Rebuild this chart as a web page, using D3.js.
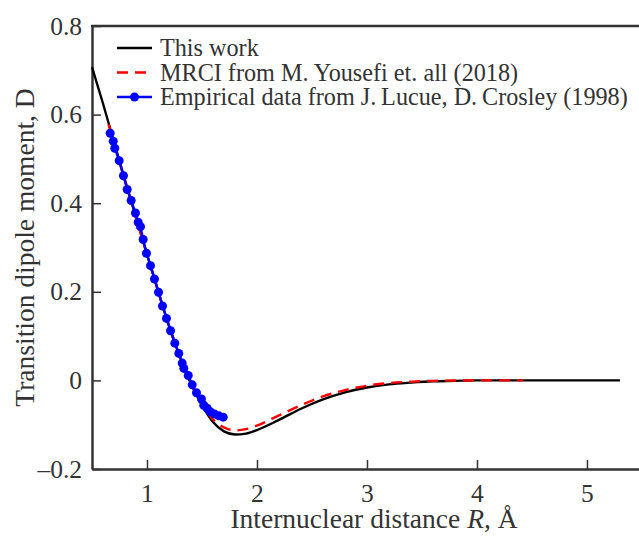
<!DOCTYPE html>
<html lang="en">
<head>
    <meta charset="UTF-8">
    <title>Transition dipole moment vs internuclear distance</title>
    <script src="https://d3js.org/d3.v7.min.js"></script>
    <style>
        body { margin: 0; background: #fff; }
        svg text { font-family: "Liberation Serif", "DejaVu Serif", serif; fill: #333; }
        .axis path, .axis line { stroke: #333; }
    </style>
</head>
<body>
<svg width="639" height="536"></svg>
<script>
    // This work (black solid)
    const workR = [0.5, 0.6, 0.7, 0.8, 0.9, 1.0, 1.1, 1.2, 1.3, 1.4, 1.5, 1.6, 1.7, 1.8, 1.9, 2.0, 2.2, 2.4, 2.6, 2.8, 3.0, 3.2, 3.4, 3.6, 3.8, 4.0, 4.5, 5.0, 5.3];
    const workD = [0.707, 0.625, 0.538, 0.452, 0.368, 0.285, 0.203, 0.124, 0.053, -0.008, -0.056, -0.094, -0.115, -0.122, -0.120, -0.112, -0.089, -0.064, -0.043, -0.027, -0.016, -0.009, -0.005, -0.002, -0.001, 0, 0, 0, 0];

    // MRCI (red dashed)
    const mrciR = [0.65, 0.7, 0.8, 0.9, 1.0, 1.1, 1.2, 1.3, 1.4, 1.5, 1.6, 1.7, 1.8, 1.9, 2.0, 2.2, 2.4, 2.6, 2.8, 3.0, 3.2, 3.4, 3.6, 4.0, 4.42];
    const mrciD = [0.578, 0.536, 0.451, 0.367, 0.284, 0.202, 0.123, 0.052, -0.008, -0.054, -0.088, -0.106, -0.113, -0.110, -0.102, -0.079, -0.056, -0.036, -0.022, -0.012, -0.006, -0.003, -0.001, 0, 0];

    // Empirical data (blue dots)
    const empR = [0.665, 0.693, 0.707, 0.747, 0.786, 0.82, 0.856, 0.895, 0.92, 0.941, 0.965, 0.995, 1.032, 1.068, 1.105, 1.141, 1.177, 1.214, 1.253, 1.289, 1.32, 1.335, 1.375, 1.411, 1.45, 1.495, 1.516, 1.547, 1.577, 1.614, 1.653, 1.693];
    const empD = [0.558, 0.540, 0.524, 0.496, 0.462, 0.431, 0.406, 0.378, 0.357, 0.347, 0.318, 0.287, 0.259, 0.229, 0.199, 0.168, 0.140, 0.112, 0.084, 0.061, 0.039, 0.027, 0.011, -0.010, -0.028, -0.042, -0.056, -0.063, -0.071, -0.076, -0.080, -0.083];

    const xTicks = [1, 2, 3, 4, 5];
    const yTicks = [-0.2, 0, 0.2, 0.4, 0.6, 0.8];

    const legendLabels = [
        "This work",
        "MRCI from M. Yousefi et. all (2018)",
        "Empirical data from J.\u2009Lucue, D.\u2009Crosley (1998)"
    ];

    const plotLeft = 92, plotRight = 639, plotTop = 26, plotBottom = 469;

    const svg = d3.select("svg");

    const x = d3.scaleLinear().domain([0.5, 5.473]).range([plotLeft, plotRight]);
    const y = d3.scaleLinear().domain([-0.2, 0.8]).range([plotBottom, plotTop]);

    const fmtY = d => d === 0 ? "0" : (d < 0 ? "\u2013" + Math.abs(d).toFixed(1) : d.toFixed(1));

    // axes with inward ticks
    const xAxis = svg.append("g")
        .attr("class", "axis")
        .attr("transform", `translate(0,${plotBottom})`)
        .call(d3.axisBottom(x).tickValues(xTicks).tickSizeInner(-9).tickSizeOuter(0).tickPadding(15).tickFormat(d3.format("d")));
    xAxis.select(".domain").attr("stroke-width", 2.5);
    xAxis.selectAll(".tick line").attr("stroke-width", 1.5);
    xAxis.selectAll(".tick text").attr("font-size", 25.5).attr("fill", "#333");

    const yAxis = svg.append("g")
        .attr("class", "axis")
        .attr("transform", `translate(${plotLeft},0)`)
        .call(d3.axisLeft(y).tickValues(yTicks).tickSizeInner(-9).tickSizeOuter(0).tickPadding(10).tickFormat(fmtY));
    yAxis.select(".domain").attr("stroke-width", 2.5);
    yAxis.selectAll(".tick line").attr("stroke-width", 1.5);
    yAxis.selectAll(".tick text").attr("font-size", 25.5).attr("fill", "#333");

    // top frame line
    svg.append("line")
        .attr("x1", plotLeft - 1).attr("x2", plotRight)
        .attr("y1", plotTop).attr("y2", plotTop)
        .attr("stroke", "#333").attr("stroke-width", 2.5);

    const line = d3.line()
        .x(d => x(d[0]))
        .y(d => y(d[1]))
        .curve(d3.curveMonotoneX);

    svg.append("path")
        .datum(d3.zip(workR, workD))
        .attr("fill", "none")
        .attr("stroke", "#000")
        .attr("stroke-width", 2.4)
        .attr("d", line);

    svg.append("path")
        .datum(d3.zip(mrciR, mrciD))
        .attr("fill", "none")
        .attr("stroke", "#f00")
        .attr("stroke-width", 2.4)
        .attr("stroke-dasharray", "11,7")
        .attr("d", line);

    const emp = d3.zip(empR, empD);
    svg.append("path")
        .datum(emp)
        .attr("fill", "none")
        .attr("stroke", "#00f")
        .attr("stroke-width", 2.4)
        .attr("d", d3.line().x(d => x(d[0])).y(d => y(d[1])));

    svg.selectAll(".dot")
        .data(emp)
        .enter().append("circle")
        .attr("class", "dot")
        .attr("cx", d => x(d[0]))
        .attr("cy", d => y(d[1]))
        .attr("r", 4.5)
        .attr("fill", "#00f");

    // legend
    const legend = svg.append("g").attr("transform", "translate(117,48)");
    const styles = [
        { stroke: "#000", dash: null, dot: false },
        { stroke: "#f00", dash: "11,7", dot: false },
        { stroke: "#00f", dash: null, dot: true }
    ];
    legendLabels.forEach((label, i) => {
        const g = legend.append("g").attr("transform", `translate(0,${i * 24.5})`);
        g.append("line")
            .attr("x1", 0).attr("x2", 35)
            .attr("stroke", styles[i].stroke)
            .attr("stroke-width", 2.4)
            .attr("stroke-dasharray", styles[i].dash);
        if (styles[i].dot) {
            g.append("circle").attr("cx", 17.5).attr("r", 4.5).attr("fill", "#00f");
        }
        g.append("text")
            .attr("x", 43)
            .attr("y", 8)
            .attr("font-size", 24.2)
            .text(label);
    });

    // axis titles
    svg.append("text")
        .attr("transform", `translate(34,${(plotTop + plotBottom) / 2}) rotate(-90)`)
        .attr("text-anchor", "middle")
        .attr("font-size", 27.5)
        .text("Transition dipole moment, D");

    const xt = svg.append("text")
        .attr("x", 374)
        .attr("y", 528)
        .attr("text-anchor", "middle")
        .attr("font-size", 27.5);
    xt.append("tspan").text("Internuclear distance ");
    xt.append("tspan").attr("font-style", "italic").text("R");
    xt.append("tspan").text(", \u00c5");
</script>
</body>
</html>
